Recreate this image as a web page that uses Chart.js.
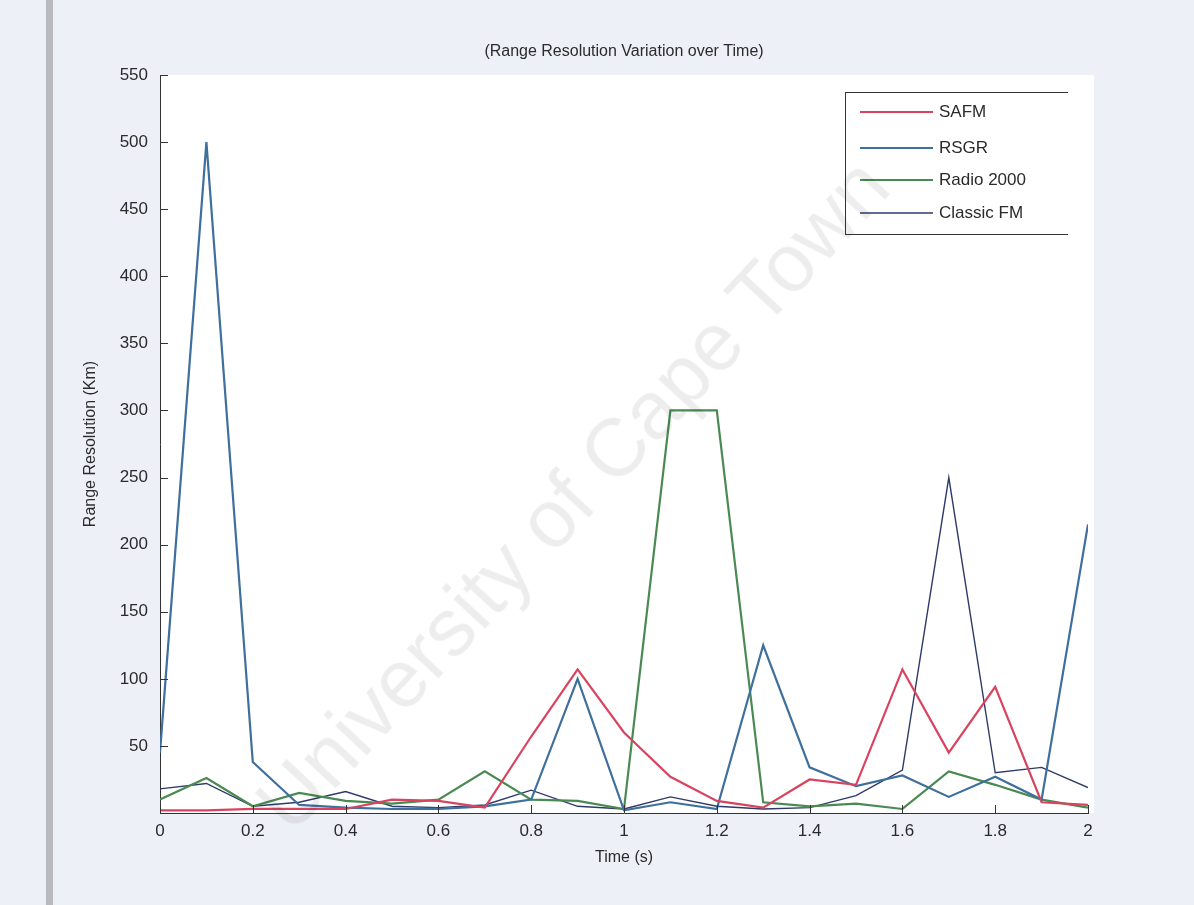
<!DOCTYPE html>
<html>
<head>
<meta charset="utf-8">
<title>Range Resolution Variation over Time</title>
<script src="https://cdn.jsdelivr.net/npm/chart.js@4.4.1/dist/chart.umd.min.js"></script>
<style>
	html, body { margin: 0; padding: 0; background: #eef0f7; }
	#wrap { position: relative; width: 1194px; height: 905px; overflow: hidden; }
	#edge { position: absolute; left: 46px; top: 0; width: 7px; height: 905px; background: #b9babe; }
	#mark {
		position: absolute; left: 572px; top: 494px;
		transform: translate(-50%, -50%) rotate(-47deg);
		font: 82px "Liberation Sans", Arial, sans-serif;
		color: rgba(0, 0, 0, 0.07);
		white-space: nowrap; pointer-events: none;
	}
</style>
</head>
<body>
<div id="wrap">
	<canvas id="rangeChart" width="1194" height="905"></canvas>
	<div id="edge"></div>
	<div id="mark">University of Cape Town</div>
</div>
<script>
// time steps (s)
const time = [0, 0.1, 0.2, 0.3, 0.4, 0.5, 0.6, 0.7, 0.8, 0.9, 1.0, 1.1, 1.2, 1.3, 1.4, 1.5, 1.6, 1.7, 1.8, 1.9, 2.0]

// range resolution (Km) per station
const safm      = [2, 2, 3, 3, 3, 10, 9, 4, 57, 107, 60, 27, 9, 4, 25, 21, 107, 45, 94, 8, 6]
const rsgr      = [45, 500, 38, 6, 4, 3, 3, 5, 10, 100, 2, 8, 3, 125, 34, 20, 28, 12, 27, 10, 215]
const radio2000 = [10, 26, 5, 15, 9, 7, 10, 31, 10, 9, 3, 300, 300, 8, 5, 7, 3, 31, 21, 10, 4]
const classicFm = [18, 22, 5, 8, 16, 5, 4, 6, 17, 5, 3, 12, 5, 3, 4, 13, 32, 250, 30, 34, 19]

const yTicks = [50, 100, 150, 200, 250, 300, 350, 400, 450, 500, 550]

const FONT = "'Liberation Sans Narrow', 'Liberation Sans', Arial, sans-serif"
const INK = "#2b2b2b"

function series(values) {
	return values.map((v, i) => ({ x: time[i], y: v }))
}

function Line(label, values, color, width) {
	this.label = label
	this.data = series(values)
	this.borderColor = color
	this.backgroundColor = color
	this.borderWidth = width
	this.pointRadius = 0
	this.tension = 0
	this.fill = false
}

const matlabLook = {
	id: "matlabLook",
	beforeDraw(chart) {
		const { ctx, chartArea: a } = chart
		ctx.save()
		ctx.fillStyle = "#ffffff"
		ctx.fillRect(a.left, a.top, a.right - a.left + 6, a.bottom - a.top)
		ctx.restore()
	},
	afterDraw(chart) {
		const { ctx, chartArea: a, scales } = chart
		ctx.save()

		// inward tick marks
		ctx.strokeStyle = "#333"
		ctx.lineWidth = 1
		ctx.beginPath()
		scales.y.ticks.forEach(t => {
			if (t.value === 0) return
			const py = Math.round(scales.y.getPixelForValue(t.value)) + 0.5
			ctx.moveTo(a.left, py)
			ctx.lineTo(a.left + 8, py)
		})
		scales.x.ticks.forEach(t => {
			const px = Math.round(scales.x.getPixelForValue(t.value)) + 0.5
			ctx.moveTo(px, a.bottom)
			ctx.lineTo(px, a.bottom - 8)
		})
		ctx.stroke()

		// title
		ctx.fillStyle = INK
		ctx.font = "16px " + FONT
		ctx.textAlign = "center"
		ctx.textBaseline = "middle"
		ctx.fillText("(Range Resolution Variation over Time)", 624, 52)

		// legend box
		const box = { left: 845, top: 92, right: 1068, bottom: 234 }
		ctx.strokeStyle = "#333"
		ctx.beginPath()
		ctx.moveTo(box.left + 0.5, box.top + 0.5)
		ctx.lineTo(box.right, box.top + 0.5)
		ctx.moveTo(box.left + 0.5, box.top)
		ctx.lineTo(box.left + 0.5, box.bottom)
		ctx.moveTo(box.left, box.bottom + 0.5)
		ctx.lineTo(box.right, box.bottom + 0.5)
		ctx.stroke()

		const rows = [112, 148, 180, 213]
		ctx.textAlign = "left"
		ctx.font = "17px " + FONT
		chart.data.datasets.forEach((ds, i) => {
			ctx.strokeStyle = ds.borderColor
			ctx.lineWidth = Math.max(ds.borderWidth, 1.5)
			ctx.beginPath()
			ctx.moveTo(860, rows[i])
			ctx.lineTo(933, rows[i])
			ctx.stroke()
			ctx.fillStyle = INK
			ctx.fillText(ds.label, 939, rows[i])
		})
		ctx.restore()
	}
}

const rangeChart = new Chart(document.getElementById("rangeChart"), {
	type: "line",
	data: {
		datasets: [
			new Line("SAFM", safm, "#d8445f", 2.2),
			new Line("RSGR", rsgr, "#3f6f9c", 2.2),
			new Line("Radio 2000", radio2000, "#4a8a52", 2.2),
			new Line("Classic FM", classicFm, "#2e3a68", 1.4)
		]
	},
	options: {
		responsive: false,
		animation: false,
		layout: { padding: { left: 81, top: 75, right: 106, bottom: 38 } },
		scales: {
			x: {
				type: "linear",
				min: 0,
				max: 2,
				grid: { display: false, drawTicks: false },
				border: { display: true, color: "#333", width: 1 },
				ticks: {
					stepSize: 0.2,
					padding: 8,
					color: INK,
					font: { family: FONT, size: 17 },
					maxRotation: 0,
					callback: v => String(+v.toFixed(1))
				},
				title: { display: true, text: "Time (s)", color: INK, font: { family: FONT, size: 16 }, padding: 0 },
				afterFit: s => { s.height = 54 }
			},
			y: {
				min: 0,
				max: 550,
				grid: { display: false, drawTicks: false },
				border: { display: true, color: "#333", width: 1 },
				ticks: {
					stepSize: 50,
					padding: 12,
					color: INK,
					font: { family: FONT, size: 17 },
					callback: v => yTicks.includes(v) ? String(v) : ""
				},
				title: { display: true, text: "Range Resolution (Km)", color: INK, font: { family: FONT, size: 16 }, padding: 0 },
				afterFit: s => { s.width = 79 }
			}
		},
		plugins: {
			legend: { display: false },
			tooltip: { enabled: false }
		}
	},
	plugins: [matlabLook]
})
</script>
</body>
</html>
